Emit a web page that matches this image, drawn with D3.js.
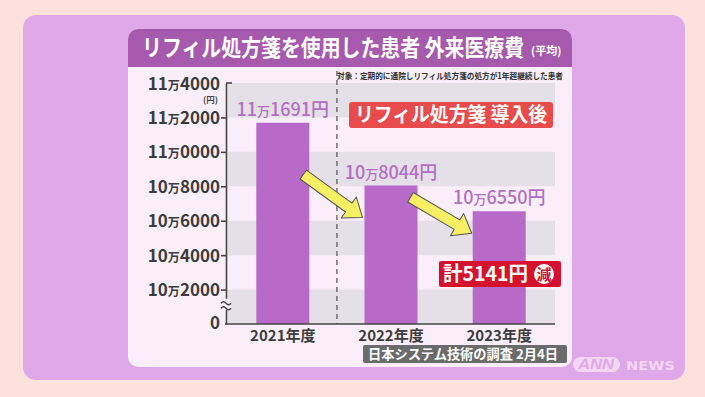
<!DOCTYPE html>
<html>
<head>
<meta charset="utf-8">
<script src="https://cdn.jsdelivr.net/npm/d3@7"></script>
<style>
  html, body { margin: 0; padding: 0; background: #fde1dd; }
  svg { display: block; font-family: "Noto Sans CJK JP", "Noto Sans", sans-serif; }
</style>
</head>
<body>
<div id="chart"></div>
<script>
// data
const years = ["2021年度", "2022年度", "2023年度"];
const costs = [111691, 108044, 106550];
const yTicks = [100000, 102000, 104000, 106000, 108000, 110000, 112000, 114000];
const stripes = [[112000, 114000], [108000, 110000], [104000, 106000], [100000, 102000]];
const titleMain = "リフィル処方箋を使用した患者 外来医療費";
const titleSub = "(平均)";
const noteText = "対象：定期的に通院しリフィル処方箋の処方が1年超継続した患者";
const afterLabel = "リフィル処方箋 導入後";
const totalLabel = "計5141円";
const sourceText = "日本システム技術の調査 2月4日";

const W = 705, H = 397;
const svg = d3.select("#chart").append("svg")
    .attr("width", W).attr("height", H);

// background + panels
svg.append("rect").attr("width", W).attr("height", H).attr("fill", "#fde1dd");
svg.append("rect").attr("x", 23).attr("y", 15).attr("width", 662).attr("height", 365)
    .attr("rx", 13).attr("fill", "#dfa8e8");
svg.append("rect").attr("x", 128).attr("y", 29).attr("width", 444).attr("height", 338)
    .attr("rx", 10).attr("fill", "#f9eef9");
svg.append("rect").attr("x", 128).attr("y", 29).attr("width", 444).attr("height", 38)
    .attr("rx", 10).attr("fill", "#a65aae");
svg.append("rect").attr("x", 128).attr("y", 50).attr("width", 444).attr("height", 17)
    .attr("fill", "#a65aae");

// title: slightly condensed look by stretching vertically
svg.append("text")
    .attr("transform", "translate(142,56) scale(1,1.16)")
    .attr("font-size", 19.9).attr("font-weight", 700).attr("fill", "#fff")
    .text(titleMain);
svg.append("text").attr("x", 531).attr("y", 55)
    .attr("font-size", 11).attr("font-weight", 700).attr("fill", "#fff")
    .text(titleSub);

// scales
const x = d3.scaleBand().domain(years).range([226, 556])
    .paddingInner(0.51).paddingOuter(0.28);
const y = d3.scaleLinear().domain([100000, 114000]).range([324, 83]);

// stripes
svg.selectAll(".stripe").data(stripes).enter().append("rect")
    .attr("x", 228).attr("width", 327)
    .attr("y", d => y(d[1])).attr("height", d => y(d[0]) - y(d[1]))
    .attr("fill", "#e5e0e8");

// dashed divider between 2021 and 2022
const divX = (x(years[0]) + x.bandwidth() + x(years[1])) / 2;
svg.append("line").attr("x1", divX).attr("x2", divX)
    .attr("y1", 71).attr("y2", y(100000))
    .attr("stroke", "#555").attr("stroke-width", 1.2).attr("stroke-dasharray", "5,4");

// bars
svg.selectAll(".bar").data(costs).enter().append("rect")
    .attr("x", (d, i) => x(years[i]))
    .attr("y", d => y(d))
    .attr("width", x.bandwidth())
    .attr("height", d => y(100000) - y(d))
    .attr("fill", "#b86ac8");

// y axis
function man(v) { return Math.floor(v / 10000); }
const yAxis = svg.append("g").attr("transform", "translate(226,0)")
    .call(d3.axisLeft(y).tickValues(yTicks).tickSizeInner(5).tickSizeOuter(0).tickFormat(""));
yAxis.select(".domain").attr("stroke", "#444").attr("stroke-width", 1.6);
yAxis.selectAll(".tick line").attr("stroke", "#444").attr("stroke-width", 1.6);
yAxis.selectAll(".tick").filter(d => d === 100000 || d === 114000).select("line").remove();
svg.append("path")
    .attr("d", `M226,${y(114000)} h6`)
    .attr("stroke", "#444").attr("stroke-width", 1.6).attr("fill", "none");

const tickLabels = svg.append("g").selectAll("text").data(yTicks).enter().append("text")
    .attr("x", 220).attr("y", d => y(d) + 6.5)
    .attr("text-anchor", "end").attr("font-size", 17).attr("font-weight", 700)
    .attr("fill", "#3c3c3c");
tickLabels.each(function (d) {
  const t = d3.select(this);
  if (d === 100000) { t.attr("y", y(d) + 5).text("0"); return; }
  t.append("tspan").text(man(d));
  t.append("tspan").attr("font-size", 12).text("万");
  t.append("tspan").text(String(d % 10000).padStart(4, "0"));
});
svg.append("text").attr("x", 218).attr("y", 103).attr("text-anchor", "end")
    .attr("font-size", 8.5).attr("font-weight", 700).attr("fill", "#444").text("(円)");

// axis break
const bY = (y(100000) + y(102000)) / 2 - 2;
svg.append("rect").attr("x", 221).attr("y", bY - 6).attr("width", 10).attr("height", 11)
    .attr("fill", "#f9eef9");
[-2.5, 2.5].forEach(o => {
  svg.append("path")
    .attr("d", `M221,${bY + o + 1} q2.5,-3 5,0 t5,0`)
    .attr("stroke", "#444").attr("stroke-width", 1.4).attr("fill", "none");
});

// baseline
svg.append("line").attr("x1", 225).attr("x2", 555)
    .attr("y1", y(100000)).attr("y2", y(100000))
    .attr("stroke", "#444").attr("stroke-width", 1.6);

// x labels
svg.selectAll(".xl").data(years).enter().append("text")
    .attr("x", d => x(d) + x.bandwidth() / 2).attr("y", 341)
    .attr("text-anchor", "middle").attr("font-size", 15).attr("font-weight", 700)
    .attr("fill", "#3c3c3c").text(d => d);

// value labels
const vl = svg.selectAll(".vl").data(costs).enter().append("text")
    .attr("x", (d, i) => x(years[i]) + x.bandwidth() / 2)
    .attr("y", d => y(d) - 7)
    .attr("text-anchor", "middle").attr("font-size", 18).attr("font-weight", 500)
    .attr("fill", "#b46ec6");
vl.each(function (d) {
  const t = d3.select(this);
  t.append("tspan").text(man(d));
  t.append("tspan").attr("font-size", 13).text("万");
  t.append("tspan").text(String(d % 10000).padStart(4, "0") + "円");
});

// arrows from each bar to the next
function arrow(x1, y1, x2, y2) {
  const L = Math.hypot(x2 - x1, y2 - y1);
  const a = Math.atan2(y2 - y1, x2 - x1) * 180 / Math.PI;
  const hl = 17, hw = 13, sw = 5.5;
  const pts = [[0, -sw], [L - hl, -sw], [L - hl, -hw], [L, 0], [L - hl, hw], [L - hl, sw], [0, sw]];
  svg.append("polygon")
    .attr("points", pts.map(p => p.join(",")).join(" "))
    .attr("transform", `translate(${x1},${y1}) rotate(${a})`)
    .attr("fill", "#f8f064").attr("stroke", "#555").attr("stroke-width", 1)
    .attr("stroke-linejoin", "round");
}
arrow(x(years[0]) + x.bandwidth() - 6, y(costs[1]) - 11, x(years[1]) - 2, y(costs[1]) + 32);
arrow(x(years[1]) + x.bandwidth() - 7, y(costs[2]) - 14, x(years[2]) - 1, y(costs[2]) + 22);

// note
svg.append("text").attr("x", 337).attr("y", 79)
    .attr("font-size", 8.5).attr("font-weight", 700).attr("fill", "#333")
    .attr("textLength", 226).attr("lengthAdjust", "spacingAndGlyphs")
    .text(noteText);

// "導入後" label
svg.append("rect").attr("x", 349).attr("y", 102).attr("width", 204).attr("height", 26)
    .attr("rx", 3).attr("fill", "#e84b4b");
svg.append("text").attr("x", 355).attr("y", 122)
    .attr("font-size", 20).attr("font-weight", 700).attr("fill", "#fff")
    .attr("textLength", 192).attr("lengthAdjust", "spacingAndGlyphs")
    .text(afterLabel);

// total reduction callout
svg.append("rect").attr("x", 439).attr("y", 261).attr("width", 122).attr("height", 26)
    .attr("rx", 2).attr("fill", "#d5112d");
svg.append("text").attr("x", 443).attr("y", 281)
    .attr("font-size", 20).attr("font-weight", 700).attr("fill", "#fff")
    .attr("textLength", 85).attr("lengthAdjust", "spacingAndGlyphs")
    .text(totalLabel);
svg.append("circle").attr("cx", 544).attr("cy", 274).attr("r", 10).attr("fill", "#fff");
svg.append("text").attr("x", 544).attr("y", 279.5).attr("text-anchor", "middle")
    .attr("font-size", 15).attr("font-weight", 700).attr("fill", "#d5112d").text("減");

// source
svg.append("rect").attr("x", 363).attr("y", 345).attr("width", 204).attr("height", 18)
    .attr("rx", 2).attr("fill", "#6b6b6b");
svg.append("text").attr("x", 368).attr("y", 359)
    .attr("font-size", 13.5).attr("font-weight", 700).attr("fill", "#fff")
    .attr("textLength", 190).attr("lengthAdjust", "spacingAndGlyphs")
    .text(sourceText);

// ANN NEWS logo
svg.append("rect").attr("x", 573).attr("y", 357).attr("width", 47).attr("height", 15)
    .attr("rx", 7.5).attr("fill", "#f3d6f3");
svg.append("text").attr("x", 596).attr("y", 369).attr("text-anchor", "middle")
    .attr("font-family", "Liberation Sans, sans-serif")
    .attr("font-size", 14).attr("font-weight", 700).attr("font-style", "italic")
    .attr("fill", "#dfa8e8").attr("textLength", 36).attr("lengthAdjust", "spacingAndGlyphs")
    .text("ANN");
svg.append("text").attr("x", 626).attr("y", 370)
    .attr("font-family", "DejaVu Sans, sans-serif")
    .attr("font-size", 12).attr("font-weight", 700)
    .attr("fill", "#f3d6f3").attr("textLength", 49).attr("lengthAdjust", "spacingAndGlyphs")
    .text("NEWS");
</script>
</body>
</html>
